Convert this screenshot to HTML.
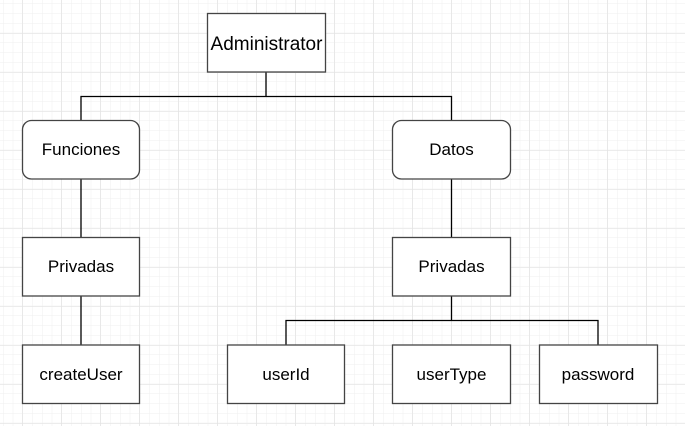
<!DOCTYPE html>
<html><head><meta charset="utf-8"><style>
html,body{margin:0;padding:0;background:#fff;}
svg{display:block;}
text{font-family:"Liberation Sans",Arial,sans-serif;fill:#000;}
</style></head><body>
<svg width="685" height="426" viewBox="0 0 685 426" xmlns="http://www.w3.org/2000/svg">
<defs>
<pattern id="minor" x="3" y="3.5" width="9.75" height="9.75" patternUnits="userSpaceOnUse">
<path d="M0 0V9.75M0 0H9.75" stroke="#efefef" stroke-width="1" fill="none"/>
</pattern>
<pattern id="major" x="22" y="33.5" width="39" height="39" patternUnits="userSpaceOnUse">
<path d="M0 0V39M0 0H39" stroke="#e2e2e2" stroke-width="1" fill="none"/>
</pattern>
</defs>
<rect width="685" height="426" fill="url(#minor)"/>
<rect width="685" height="426" fill="url(#major)"/>
<g stroke="#000" stroke-width="1.3" fill="none">
<path d="M266 72V96.5M81 120V96.5H451.5V120"/>
<path d="M81 179V237M81 296V345"/>
<path d="M451.5 179V237M451.5 296V320.5M286 345V320.5H598V345"/>
</g>
<g stroke="#444" stroke-width="1.3" fill="#fff">
<rect x="207.5" y="13.5" width="118" height="58.5"/>
<rect x="22.5" y="120.5" width="117" height="58.5" rx="9"/>
<rect x="392.5" y="120.5" width="118" height="58.5" rx="9"/>
<rect x="22.5" y="237.5" width="117" height="58.5"/>
<rect x="392.5" y="237.5" width="118" height="58.5"/>
<rect x="22.5" y="345" width="117" height="58.5"/>
<rect x="227.5" y="345" width="117" height="58.5"/>
<rect x="392.5" y="345" width="118" height="58.5"/>
<rect x="539.5" y="345" width="118" height="58.5"/>
</g>
<g text-anchor="middle" font-size="17">
<text x="266.5" y="50" font-size="19">Administrator</text>
<text x="81" y="155">Funciones</text>
<text x="451.5" y="155">Datos</text>
<text x="81" y="272">Privadas</text>
<text x="451.5" y="272">Privadas</text>
<text x="81" y="380">createUser</text>
<text x="286" y="380">userId</text>
<text x="451.5" y="380">userType</text>
<text x="598" y="380">password</text>
</g>
</svg>
</body></html>
